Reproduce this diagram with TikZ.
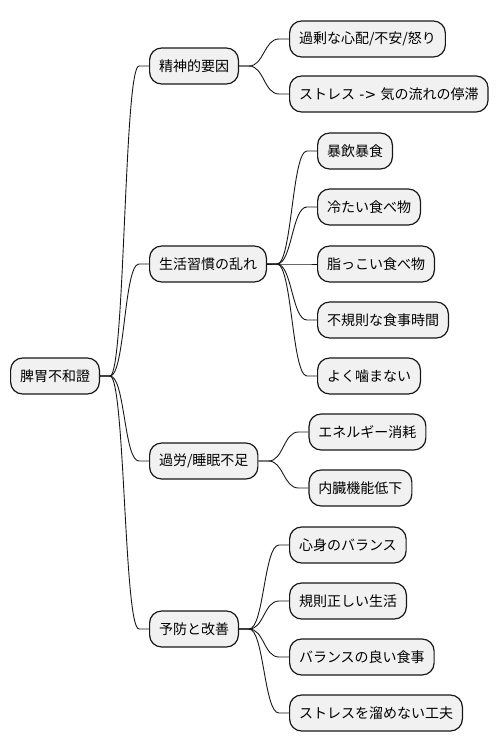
\documentclass[tikz,border=0pt]{standalone}
\usepackage{fontspec}
\setmainfont{Noto Sans CJK JP}
\newfontfamily\latinf{DejaVu Sans}
\usetikzlibrary{calc}
\definecolor{boxfill}{HTML}{F1F1F1}
\definecolor{boxline}{HTML}{181818}
\newcommand\mmconn[2]{\draw[mmlink] (#1.east) -- ([xshift=10pt]#1.east) .. controls ([xshift=25pt]#1.east) and ([xshift=-25pt]#2.west) .. ([xshift=-10pt]#2.west) -- (#2.west);}
\begin{document}
\begin{tikzpicture}[x=1pt,y=-1pt,
  mmbox/.style={draw=boxline, fill=boxfill, line width=1.2pt, rounded corners=12pt, minimum height=36pt, inner xsep=9.4pt, inner ysep=0pt, font=\fontsize{14pt}{16pt}\selectfont, anchor=west},
  mmlink/.style={draw=boxline, line width=0.9pt}]
\useasboundingbox (0,0) rectangle (500,752);
\node[mmbox] (root) at (10,376) {脾胃不和證};
\node[mmbox] (a) at ([xshift=49pt]root.east |- 0,66) {精神的要因};
\node[mmbox] (a1) at ([xshift=50pt]a.east |- 0,39) {過剰な心配/不安/怒り};
\node[mmbox] (a2) at ([xshift=50pt]a.east |- 0,94) {ストレス{\latinf\space->\space}気の流れの停滞};
\node[mmbox] (b) at ([xshift=49pt]root.east |- 0,264) {生活習慣の乱れ};
\node[mmbox] (b1) at ([xshift=50pt]b.east |- 0,151) {暴飲暴食};
\node[mmbox] (b2) at ([xshift=50pt]b.east |- 0,207) {冷たい食べ物};
\node[mmbox] (b3) at ([xshift=50pt]b.east |- 0,264) {脂っこい食べ物};
\node[mmbox] (b4) at ([xshift=50pt]b.east |- 0,320) {不規則な食事時間};
\node[mmbox] (b5) at ([xshift=50pt]b.east |- 0,376) {よく噛まない};
\node[mmbox] (c) at ([xshift=49pt]root.east |- 0,461) {過労/睡眠不足};
\node[mmbox] (c1) at ([xshift=50pt]c.east |- 0,432) {エネルギー消耗};
\node[mmbox] (c2) at ([xshift=50pt]c.east |- 0,488) {内臓機能低下};
\node[mmbox] (d) at ([xshift=49pt]root.east |- 0,629) {予防と改善};
\node[mmbox] (d1) at ([xshift=50pt]d.east |- 0,545) {心身のバランス};
\node[mmbox] (d2) at ([xshift=50pt]d.east |- 0,601) {規則正しい生活};
\node[mmbox] (d3) at ([xshift=50pt]d.east |- 0,657) {バランスの良い食事};
\node[mmbox] (d4) at ([xshift=50pt]d.east |- 0,713) {ストレスを溜めない工夫};
\mmconn{root}{a}
\mmconn{root}{b}
\mmconn{root}{c}
\mmconn{root}{d}
\mmconn{a}{a1}
\mmconn{a}{a2}
\mmconn{b}{b1}
\mmconn{b}{b2}
\mmconn{b}{b3}
\mmconn{b}{b4}
\mmconn{b}{b5}
\mmconn{c}{c1}
\mmconn{c}{c2}
\mmconn{d}{d1}
\mmconn{d}{d2}
\mmconn{d}{d3}
\mmconn{d}{d4}
\end{tikzpicture}
\end{document}
